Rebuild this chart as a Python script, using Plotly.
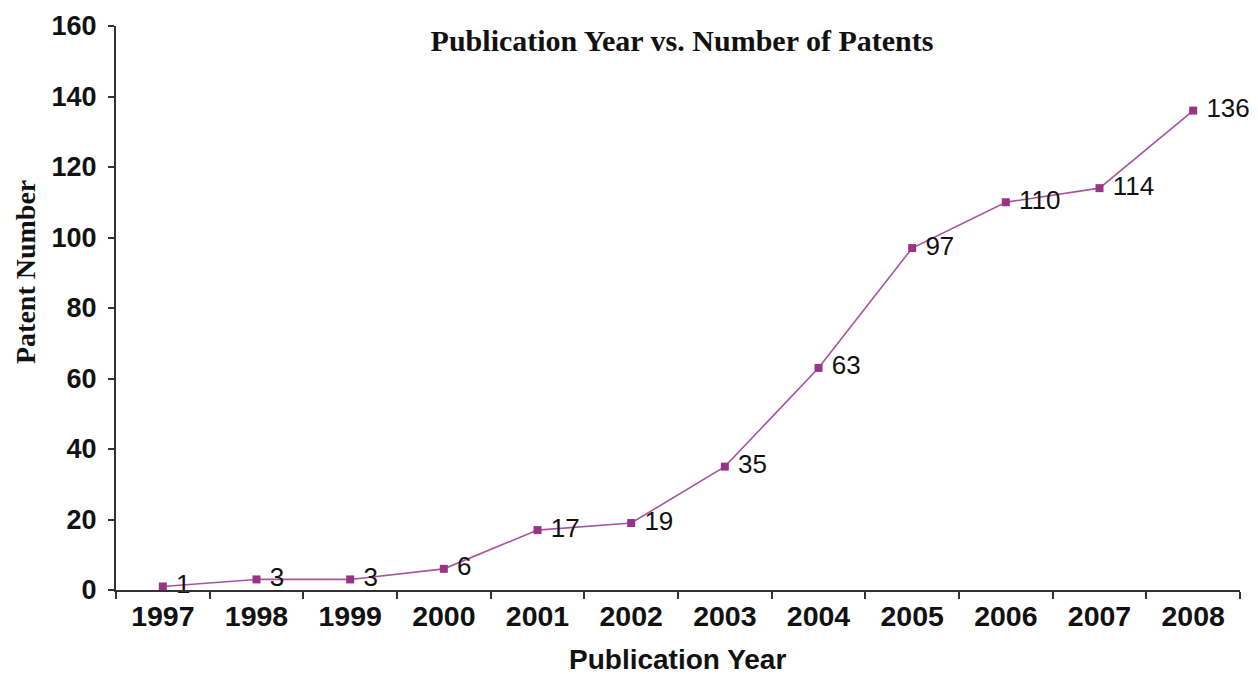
import plotly.graph_objects as go

years = ["1997", "1998", "1999", "2000", "2001", "2002", "2003", "2004", "2005", "2006", "2007", "2008"]
patents = [1, 3, 3, 6, 17, 19, 35, 63, 97, 110, 114, 136]
y_ticks = [0, 20, 40, 60, 80, 100, 120, 140, 160]

W, H = 1258, 674
L, R, T, B = 116, 18, 26, 84
plot_w = W - L - R
plot_h = H - T - B

fig = go.Figure()
fig.add_trace(go.Scatter(
    x=years, y=patents,
    mode="lines+markers+text",
    text=[" " + str(v) for v in patents],
    textposition="middle right",
    textfont=dict(family="Liberation Sans, Arial", size=26, color="#111111"),
    line=dict(color="#a8559f", width=1.6),
    marker=dict(symbol="square", size=8, color="#993388"),
    cliponaxis=False,
    showlegend=False,
))

fig.update_layout(
    width=W, height=H,
    margin=dict(l=L, r=R, t=T, b=B),
    paper_bgcolor="white", plot_bgcolor="white",
    title=dict(
        text="<b>Publication Year vs. Number of Patents</b>",
        font=dict(family="Liberation Serif, Times New Roman", size=30, color="#111111"),
        x=(682 - L) / plot_w, xref="paper", xanchor="center",
        y=1 - 40 / H, yref="container", yanchor="middle",
    ),
    xaxis=dict(
        type="category",
        tickson="boundaries",
        ticks="outside", ticklen=7, tickwidth=2, tickcolor="#333333",
        showline=True, linecolor="#333333", linewidth=2,
        showgrid=False, zeroline=False,
        tickfont=dict(family="Liberation Sans, Arial", size=28.5, color="#111111", weight="bold"),
        range=[-0.5, len(years) - 0.5],
    ),
    yaxis=dict(
        range=[0, 160],
        tickvals=y_ticks,
        ticks="outside", ticklen=6, tickwidth=2, tickcolor="#333333",
        ticklabelstandoff=6,
        showline=True, linecolor="#333333", linewidth=2,
        showgrid=False, zeroline=False,
        tickfont=dict(family="Liberation Sans, Arial", size=27, color="#111111", weight="bold"),
    ),
    annotations=[
        dict(text="<b>Publication Year</b>", xref="paper", yref="paper",
             x=(677 - L) / plot_w, y=(H - B - 659) / plot_h,
             xanchor="center", yanchor="middle", showarrow=False,
             font=dict(family="Liberation Sans, Arial", size=28, color="#111111")),
        dict(text="<b>Patent Number</b>", xref="paper", yref="paper",
             x=(25 - L) / plot_w, y=(H - B - 272) / plot_h, textangle=-90,
             xanchor="center", yanchor="middle", showarrow=False,
             font=dict(family="Liberation Serif, Times New Roman", size=28, color="#111111")),
    ],
)

fig.write_html("out.html", config={"displayModeBar": False},
               post_script="document.body.style.margin='0';document.body.style.overflow='hidden';")
